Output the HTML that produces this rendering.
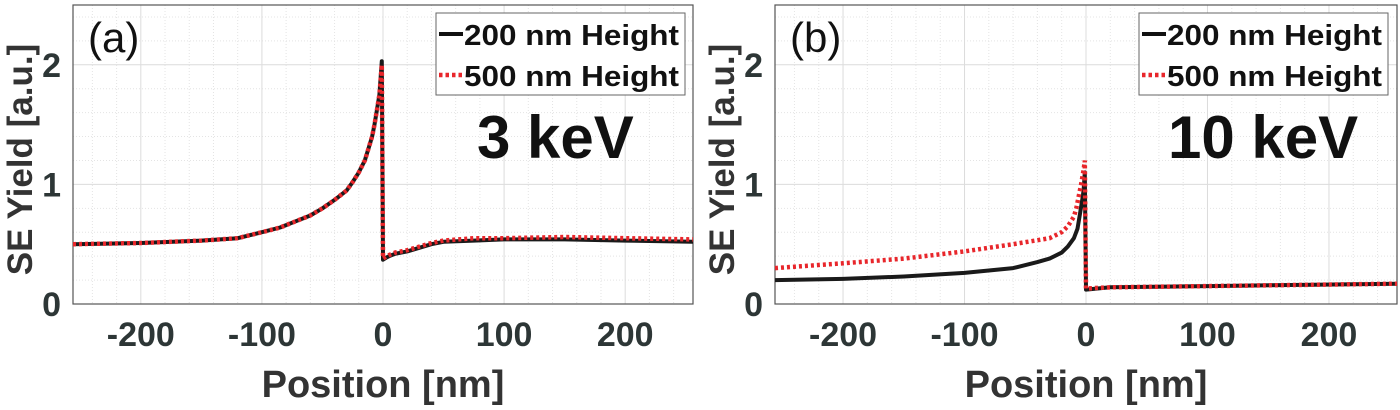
<!DOCTYPE html>
<html><head><meta charset="utf-8"><style>
html,body{margin:0;padding:0;background:#fff;}
svg{display:block;font-family:"Liberation Sans",Arial,sans-serif;}
</style></head><body>
<svg id="fig" width="1400" height="410" viewBox="0 0 1400 410" xmlns="http://www.w3.org/2000/svg"></svg>
<script>
const xTicks = [-200, -100, 0, 100, 200];
const yTicks = [0, 1, 2];
const aPos200 = [-256,-200,-150,-120,-100,-85,-75,-60,-50,-40,-30,-25,-20,-15,-12,-9,-7,-5,-3,-1,0,3,5,10,20,30,40,50,75,100,150,200,256];
const aVal200 = [0.50,0.51,0.53,0.55,0.60,0.64,0.68,0.74,0.80,0.87,0.95,1.02,1.10,1.20,1.30,1.40,1.50,1.62,1.75,2.03,0.37,0.39,0.40,0.42,0.44,0.47,0.50,0.52,0.53,0.54,0.54,0.53,0.52];
const aPos500 = [-256,-200,-150,-120,-100,-85,-75,-60,-50,-40,-30,-25,-20,-15,-12,-9,-7,-5,-3,-1,0,3,5,10,20,30,40,50,75,100,150,200,256];
const aVal500 = [0.50,0.51,0.53,0.55,0.60,0.64,0.68,0.74,0.80,0.87,0.95,1.02,1.10,1.20,1.30,1.40,1.50,1.62,1.75,2.00,0.38,0.40,0.41,0.43,0.45,0.48,0.51,0.53,0.55,0.55,0.56,0.55,0.54];
const bPos200 = [-256,-200,-150,-100,-60,-40,-30,-20,-15,-10,-7,-5,-3,-2,-1,0,20,100,256];
const bVal200 = [0.20,0.21,0.23,0.26,0.30,0.35,0.38,0.43,0.48,0.55,0.63,0.75,0.88,0.95,1.10,0.12,0.14,0.15,0.17];
const bPos500 = [-256,-200,-150,-100,-60,-30,-20,-15,-10,-8,-6,-4,-2,-1,0,20,100,256];
const bVal500 = [0.30,0.34,0.38,0.44,0.50,0.55,0.60,0.65,0.73,0.80,0.90,1.00,1.12,1.20,0.13,0.14,0.15,0.17];

const NS = "http://www.w3.org/2000/svg";
const svg = document.getElementById('fig');
function el(tag, attrs, parent){const e=document.createElementNS(NS,tag);for(const k in attrs)e.setAttribute(k,attrs[k]);(parent||svg).appendChild(e);return e;}

function panel(px0, px1, label, keV, keVx, legX, s200p, s200v, s500p, s500v, pname){
  const top=5, bot=304, xmin=-256, xmax=256, ymax=2.5;
  const X=v=>px0+(v-xmin)/(xmax-xmin)*(px1-px0);
  const Y=v=>bot-v/ymax*(bot-top);
  const g=el('g',{});
  
  
  for(let v=-240; v<=240; v+=20){ if(v%100===0) continue;
    const l=el('line',{x1:X(v),x2:X(v),y1:top,y2:bot,stroke:'#e4e4e4','stroke-width':1,'stroke-dasharray':'1 2'},g);
      }
  for(let v=0.2; v<2.5; v+=0.2){ if(Math.abs(v-Math.round(v))<0.01) continue;
    const l=el('line',{x1:px0,x2:px1,y1:Y(v),y2:Y(v),stroke:'#e4e4e4','stroke-width':1,'stroke-dasharray':'1 2'},g);
      }
  xTicks.forEach(v=>{
    const l=el('line',{x1:X(v),x2:X(v),y1:top,y2:bot,stroke:'#dcdcdc','stroke-width':1},g);
     
    const t=el('text',{x:X(v),y:346,'text-anchor':'middle','font-size':34,'font-weight':'bold',fill:'#2d3636'},g);
    t.textContent=v;  
  });
  yTicks.forEach(v=>{
    if(v>0){const l=el('line',{x1:px0,x2:px1,y1:Y(v),y2:Y(v),stroke:'#dcdcdc','stroke-width':1},g);
     }
    const t=el('text',{x:px0-12,y:Y(v)+12,'text-anchor':'end','font-size':34,'font-weight':'bold',fill:'#2d3636'},g);
    t.textContent=v;  
  });
  const box=el('rect',{x:px0,y:top,width:px1-px0,height:bot-top,fill:'none',stroke:'#555','stroke-width':1.2},g);
   
  const pts=(p,v)=>p.map((x,i)=>X(x).toFixed(1)+','+Y(v[i]).toFixed(1)).join(' ');
  const l1=el('polyline',{points:pts(s200p,s200v),fill:'none',stroke:'#1a1a1a','stroke-width':4,'stroke-linejoin':'round'},g);
   
  const l2=el('polyline',{points:pts(s500p,s500v),fill:'none',stroke:'#e8262b','stroke-width':4.5,'stroke-dasharray':'3 3'},g);
   
  const lab=el('text',{x:px0+15,y:52,'font-size':42,fill:'#111'},g);
  lab.textContent=label;  
  const ke=el('text',{x:keVx,y:158,'font-size':60,'font-weight':'bold',fill:'#111'},g);
  ke.textContent=keV;  
  const yl=el('text',{x:0,y:0,transform:`translate(${px0-41},${(top+bot)/2+5}) rotate(-90)`,'text-anchor':'middle','font-size':35,'font-weight':'bold',fill:'#333'},g);
  yl.textContent='SE Yield [a.u.]';  
  const xl=el('text',{x:X(0),y:397,'text-anchor':'middle','font-size':38,'font-weight':'bold',fill:'#333'},g);
  xl.textContent='Position [nm]';  
  const lg=el('g',{},g);
   
  el('rect',{x:legX,y:13,width:249,height:82,fill:'#fff',stroke:'#666','stroke-width':1},lg);
  const e1=el('line',{x1:legX+3,x2:legX+27,y1:34,y2:34,stroke:'#111','stroke-width':4},lg);
   
  const e2=el('line',{x1:legX+3,x2:legX+27,y1:75,y2:75,stroke:'#e8262b','stroke-width':4.5,'stroke-dasharray':'3.5 3'},lg);
   
  const t1=el('text',{x:legX+28,y:45,'font-size':29,'font-weight':'bold',fill:'#111',textLength:215,lengthAdjust:'spacingAndGlyphs'},lg);
  t1.textContent='200 nm Height';  
  const t2=el('text',{x:legX+28,y:86,'font-size':29,'font-weight':'bold',fill:'#111',textLength:215,lengthAdjust:'spacingAndGlyphs'},lg);
  t2.textContent='500 nm Height';  
}
panel(73,693,'(a)','3 keV',477,436,aPos200,aVal200,aPos500,aVal500,'panel-a');
panel(775,1397,'(b)','10 keV',1168,1139,bPos200,bVal200,bPos500,bVal500,'panel-b');
</script>
</body></html>
